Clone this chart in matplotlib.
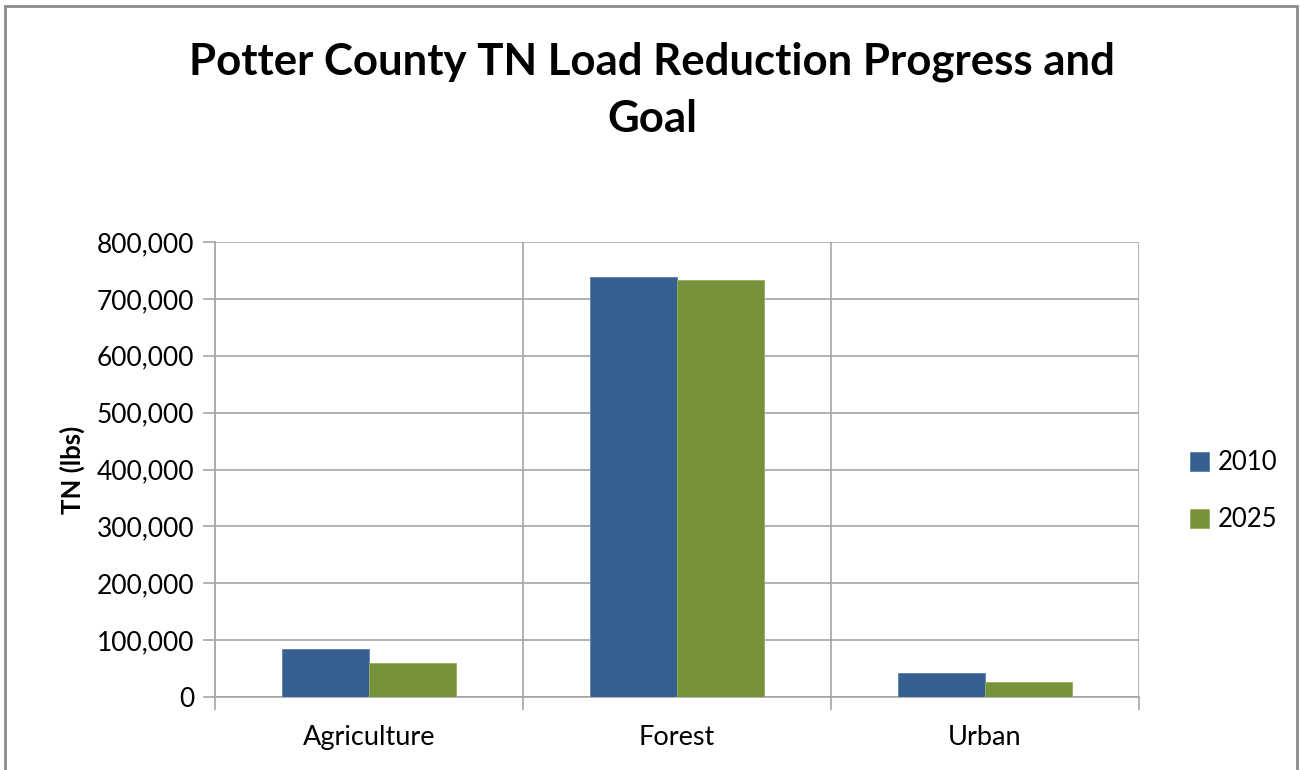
import matplotlib.pyplot as plt
import numpy as np
from matplotlib.patches import Rectangle
from matplotlib.ticker import FuncFormatter

plt.rcParams['font.family'] = ['Lato', 'DejaVu Sans']

categories = ['Agriculture', 'Forest', 'Urban']
load_2010 = [85000, 738000, 42000]
load_2025 = [60000, 734000, 27000]
label1 = '2010'
label2 = '2025'
c1 = '#36608f'
c2 = '#779339'

fig = plt.figure(figsize=(13, 7.7), dpi=100)
ax = fig.add_axes([215/1300, 1-697/770, (1139-215)/1300, (697-242)/770])

locs = np.arange(len(categories))
width = 0.284
ax.bar(locs - width/2, load_2010, width=width, color=c1, label=label1,
       edgecolor='#5a80ad', linewidth=0.6, zorder=3)
ax.bar(locs + width/2, load_2025, width=width, color=c2, label=label2,
       edgecolor='#95b05c', linewidth=0.6, zorder=3)

ax.set_xlim(-0.5, 2.5)
ax.set_ylim(0, 800000)
ax.set_yticks(np.arange(0, 800001, 100000))
ax.yaxis.set_major_formatter(FuncFormatter(lambda v, p: f'{int(v):,}'))
ax.yaxis.grid(True, color='#a6a6a6', linewidth=1.2)
ax.set_axisbelow(True)

# category separators
ax.xaxis.grid(True, color='#a6a6a6', linewidth=1.2)
ax.set_xticks([-0.5, 0.5, 1.5, 2.5])
ax.set_xticklabels([])
ax.set_xticks(locs, minor=True)
ax.set_xticklabels(categories, minor=True, fontsize=19.5)
ax.tick_params(axis='x', which='minor', length=0, pad=20)
ax.tick_params(axis='x', which='major', length=9, color='#a6a6a6', width=1.2)
ax.tick_params(axis='y', length=9, color='#a6a6a6', width=1.2, labelsize=19, pad=6)

for side in ['top', 'right']:
    ax.spines[side].set_visible(False)
ax.spines['left'].set_color('#a6a6a6')
ax.spines['bottom'].set_color('#a6a6a6')
ax.spines['left'].set_linewidth(1.2)
ax.spines['bottom'].set_linewidth(1.2)

ax.set_ylabel('TN (lbs)', fontsize=18.5, fontweight='bold', labelpad=8)

fig.text(0.5015, 1-90/770, 'Potter County TN Load Reduction Progress and\nGoal',
         ha='center', va='center', fontsize=31.5, fontweight='bold', linespacing=1.5)

ax.legend(loc='center left', bbox_to_anchor=(1.03, 0.452), frameon=False,
          fontsize=18.5, handlelength=0.75, handleheight=0.75, handletextpad=0.35,
          labelspacing=1.25)

fig.patches.append(Rectangle((5/1300, -0.05), 1292/1300, 1.05 - 6/770,
                             transform=fig.transFigure, fill=False,
                             edgecolor='#8c8c8c', linewidth=2))

fig.savefig('out.png')
